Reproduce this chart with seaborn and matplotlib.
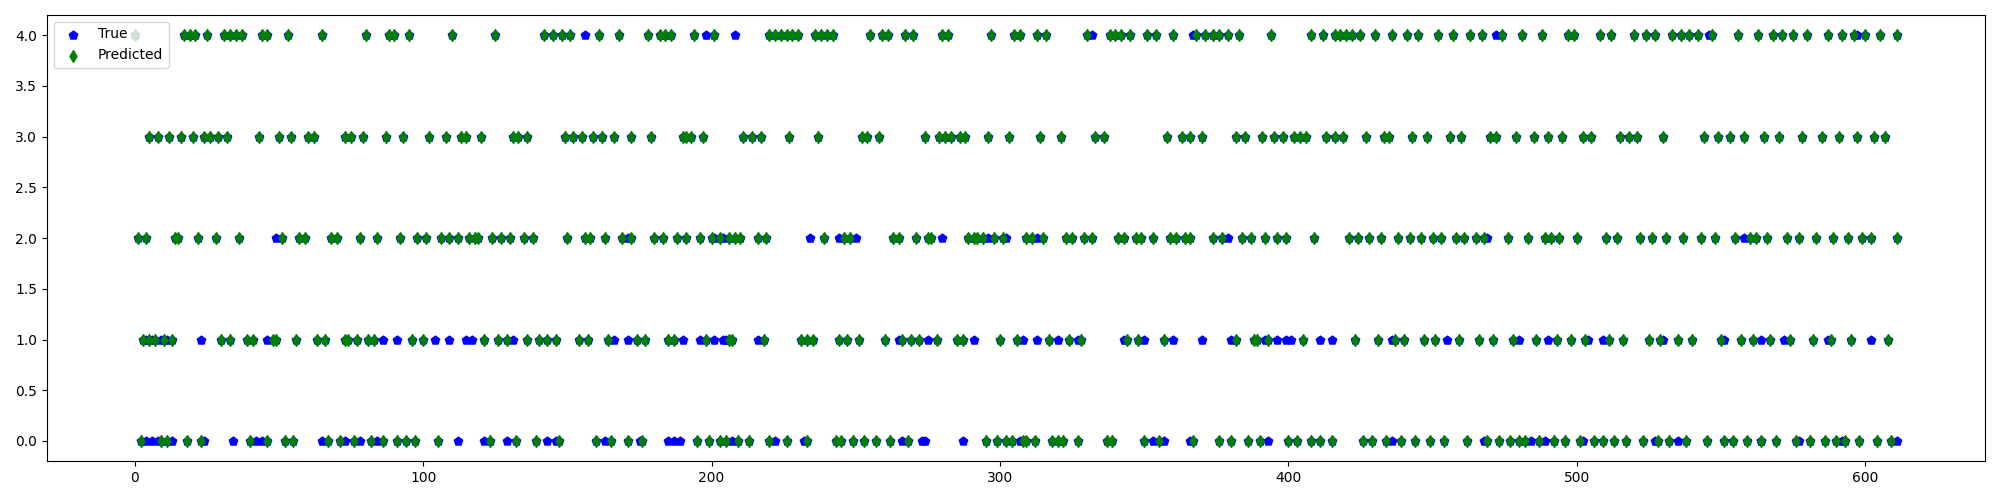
import matplotlib
matplotlib.use("Agg")
import matplotlib.pyplot as plt
import seaborn as sns
import pandas as pd

# Indices where the predicted class is k (green diamonds)
pred_class4 = [0, 17, 19, 21, 25, 31, 33, 35, 37, 44, 46, 53, 65, 80, 88, 90, 95, 110, 125,
               142, 145, 148, 151, 161, 168, 178, 182, 184, 186, 194, 201,
               220, 222, 224, 226, 228, 230, 236, 238, 240, 242, 255, 259, 261, 267, 270,
               280, 282, 297, 305, 307, 313, 316, 330, 338, 340, 342, 345, 351, 354, 360,
               368, 371, 374, 376, 379, 383, 394, 408, 412, 416,
               418, 420, 422, 425, 430, 436, 441, 445, 452, 457, 463, 467, 474, 481, 488,
               497, 499, 508, 512, 520, 524, 527, 533, 536, 539, 542, 547, 556, 563, 568,
               571, 575, 580, 587, 592, 596, 600, 605, 611]
pred_class3 = [5, 8, 12, 16, 20, 24, 26, 29, 32, 43, 50, 54, 60, 62, 73, 75, 79, 87, 93, 102,
               108, 113, 115, 120, 131, 133, 136, 149, 152, 155, 159, 162, 166, 172, 179,
               190, 191, 193, 197, 211, 214, 217, 227, 237, 252, 254, 258, 274, 279, 281,
               283, 286, 288, 296, 303, 314, 321, 333, 336, 358, 363, 366, 370, 382, 385,
               391, 395, 398, 402, 404, 406, 413, 416,
               419, 427, 433, 435, 443, 448, 456, 460, 470, 472, 479, 485, 490, 495, 502,
               505, 515, 518, 521, 530, 544, 549, 553, 558, 565, 570, 578, 585, 591, 597,
               603, 607]
pred_class2 = [1, 4, 14, 15, 22, 28, 36, 51, 57, 59, 68, 70, 78, 84, 92, 98, 101, 106, 109,
               112, 116, 118, 119, 124, 127, 130, 135, 138, 150, 156, 158, 163, 169, 172,
               180, 183, 188, 191, 196, 200, 203, 206, 208, 210, 216, 219, 239, 246, 248,
               263, 265, 271, 275, 276, 289, 291, 292, 294, 298, 301, 309, 311, 315, 323,
               325, 329, 332, 341, 343, 347, 349, 353, 359, 361, 364, 366, 374, 377, 384,
               387, 392, 396, 399, 409,
               421, 424, 428, 432, 438, 442, 446, 450, 453, 458, 461, 465, 468, 476, 483,
               489, 491, 494, 500, 510, 514, 522, 526, 531, 537, 543, 548, 555, 560, 562,
               566, 573, 577, 583, 589, 594, 599, 602, 611]
pred_class1 = [3, 5, 7, 10, 13, 30, 33, 39, 41, 48, 49, 56, 63, 66, 73, 74, 77, 81, 83, 96,
               100, 121, 126, 129, 136, 140, 143, 146, 154, 157, 164, 174, 177, 185, 187,
               198, 206, 207, 218, 231, 233, 235, 244, 247, 251, 260, 266, 269, 272, 278,
               285, 287, 300, 306, 317, 324, 328, 344, 348, 357, 382, 388, 389, 393, 405,
               423, 431, 437, 440, 447, 451, 459, 466, 471, 478, 486, 493, 498, 503, 511,
               516, 525, 529, 535, 540, 550, 557, 561, 567, 574, 582, 588, 595, 608]
pred_class0 = [2, 9, 11, 18, 23, 40, 46, 52, 55, 67, 71, 76, 82, 86, 91, 94, 97, 105, 123,
               132, 139, 147, 160, 165, 171, 176, 195, 199, 203, 205, 209, 213, 220, 226,
               233, 243, 245, 249, 253, 257, 262, 268, 295, 299, 302, 304, 308, 309, 312,
               318, 320, 322, 327, 337, 339, 350, 355, 367, 376, 380, 386, 390, 400, 403,
               408, 411, 415,
               426, 429, 434, 439, 444, 449, 454, 462, 469, 473, 477, 480, 482, 487, 492,
               496, 501, 506, 509, 513, 517, 523, 528, 532, 538, 545, 551, 554, 559, 564,
               569, 576, 581, 586, 590, 593, 598, 604, 609]

# Indices where the true class is k but the prediction differs (visible blue pentagons)
true_only4 = [156, 198, 208, 332, 367, 472, 546, 597]
true_only3 = []
true_only2 = [49, 171, 201, 204, 234, 244, 250, 280, 296, 302, 313, 379, 469, 558]
true_only1 = [4, 6, 9, 11, 23, 46, 86, 91, 104, 109, 115, 117, 131, 166, 171, 190, 196,
              201, 204, 205, 216, 265, 275, 291, 308, 313, 320, 327, 343, 350, 360, 370,
              380, 392, 396, 399, 401, 411, 415, 436, 455, 480, 490, 504, 509, 530, 551,
              564, 572, 587, 602]
true_only0 = [4, 6, 8, 13, 24, 34, 42, 44, 65, 73, 78, 84, 112, 121, 129, 143, 146, 163,
              175, 185, 187, 189, 207, 222, 232, 266, 273, 274, 287, 307, 353, 357, 366, 393,
              436, 468, 484, 489, 502, 527, 535, 564, 577, 592, 611]

pred_lists = {4: pred_class4, 3: pred_class3, 2: pred_class2, 1: pred_class1, 0: pred_class0}
true_lists = {4: true_only4, 3: true_only3, 2: true_only2, 1: true_only1, 0: true_only0}

pred_rows = [(i, k) for k, lst in pred_lists.items() for i in lst]
true_rows = pred_rows + [(i, k) for k, lst in true_lists.items() for i in lst]
pred_df = pd.DataFrame(pred_rows, columns=["index", "value"]).sort_values("index")
true_df = pd.DataFrame(true_rows, columns=["index", "value"]).sort_values("index")

fig, ax = plt.subplots(figsize=(20, 5), dpi=100)
sns.scatterplot(data=true_df, x="index", y="value", marker="p", s=40, color="blue",
                edgecolor="blue", linewidth=1, label="True", ax=ax, zorder=2)
sns.scatterplot(data=pred_df, x="index", y="value", marker="d", s=36, color="green",
                edgecolor="green", linewidth=1, label="Predicted", ax=ax, zorder=3)
ax.set_xlabel("")
ax.set_ylabel("")
ax.set_yticks([0, 0.5, 1, 1.5, 2, 2.5, 3, 3.5, 4])
ax.legend(loc="upper left")
fig.tight_layout()
fig.savefig("out.png", dpi=100)
